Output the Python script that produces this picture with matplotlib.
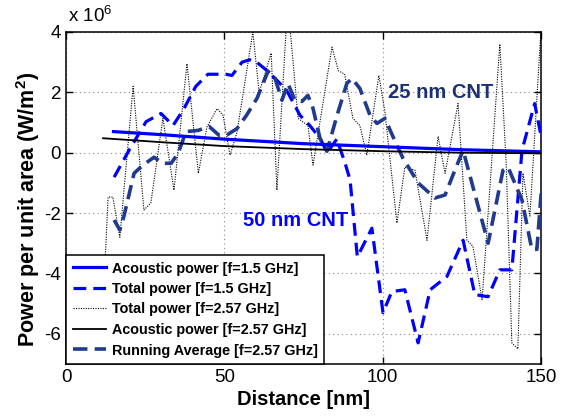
import matplotlib
matplotlib.use("Agg")
import matplotlib.pyplot as plt
import numpy as np

plt.rcParams['font.family'] = ['Liberation Sans', 'DejaVu Sans']
plt.rcParams['mathtext.fontset'] = 'custom'
plt.rcParams['mathtext.rm'] = 'Liberation Sans'
plt.rcParams['mathtext.bf'] = 'Liberation Sans:bold'
plt.rcParams['mathtext.default'] = 'regular'

SCALE = 1e6

# Acoustic power f=1.5 GHz (blue solid)
ac15_x = [15, 30, 50, 75, 100, 125, 150]
ac15_y = [0.70, 0.60, 0.45, 0.30, 0.20, 0.10, 0.03]

# Acoustic power f=2.57 GHz (black solid)
ac257_x = [11.7, 30, 50, 75, 100, 125, 150]
ac257_y = [0.48, 0.35, 0.22, 0.12, 0.05, 0.0, -0.02]

# Total power f=1.5 GHz (blue dashed)
tp15_x = [15.2, 20, 25.3, 30, 33.8, 37.3, 41, 44.8, 50.5, 52.4, 55.6, 58, 60.2, 63.4, 66.6,
          69.7, 73.9, 77, 80.2, 82.5, 85.5, 88, 89.7, 92, 96.6, 100.1, 102.9, 107, 111.2,
          115, 120.3, 125.4, 129.1, 133.3, 137, 140.8, 144, 148, 150.5]
tp15_y = [-0.81, 0.1, 1.03, 1.3, 0.9, 1.47, 2.2, 2.6, 2.6, 2.56, 3.0, 3.08, 3.0, 2.73, 2.4,
          2.06, 1.24, 0.9, 0.48, 0.0, 0.45, -0.3, -0.9, -3.45, -2.5, -5.3, -4.6, -4.54, -6.3,
          -4.54, -4.1, -2.9, -4.7, -4.77, -3.88, -3.88, 0.08, 1.63, 0.3]

# Total power f=2.57 GHz (black dotted)
tp257_x = [11.7, 13.3, 14.8, 17, 21.2, 24.6, 26.8, 30.6, 34.1, 38.2, 41.8, 44.5, 47.7, 49.6,
           51.8, 54, 59, 61, 64.8, 66.6, 70, 73.3, 76.4, 78, 84, 86, 88, 90.6, 92.8, 95, 98.8,
           100.7, 104.5, 107, 110.2, 114, 117.5, 119.7, 123.8, 126.6, 128.5, 131.4, 137,
           139, 140.8, 142.7, 144.3, 146.5, 150]
tp257_y = [-5.0, -1.47, -1.47, -2.8, 2.2, -1.9, -1.66, 1.14, -1.24, 2.95, -0.68, 0.85, 1.46, 1.24,
           -0.08, 0.68, 4.0, 2.0, 3.3, -1.24, 5.0, 1.14, 0.9, -0.41, 3.5, 2.72, 2.6, 1.14, 0.9, -0.08, 2.56,
           1.36, -2.33, -0.48, -0.58, -2.9, 0.54, -0.68, 1.63, -2.9, -3.1, -4.87, 3.6,
           -0.35, -6.3, -6.5, -0.68, -2.1, 4.1]

# Running average f=2.57 GHz (navy dashed)
ra_x = [15.2, 17, 18.3, 21.5, 24.3, 27.8, 30.6, 33.2, 35.4, 37.9, 41.7, 45.2, 48.3, 51, 54, 57,
        60.3, 63.8, 66, 68.2, 70.1, 72.3, 74.5, 76.4, 78, 80.2, 82.4, 85.6, 88.7, 90.3, 92.8, 96,
        98.2, 100.7, 103.9, 106.4, 111.2, 116.5, 119.7, 122.8, 125.4, 133.3, 138, 139.6,
        144, 147.1, 148.7, 150.3]
ra_y = [-2.23, -2.56, -2.1, -0.68, -0.41, -0.15, -0.35, -0.35, -0.02, 0.7, 0.74, 0.87, 0.58, 0.6, 0.8, 1.24,
        1.8, 2.7, 2.46, 1.74, 2.29, 1.74, 1.7, 1.9, 1.47, 0.48, 0.05, 1.24, 2.3, 2.46, 2.13, 1.24,
        0.97, 1.14, 0.38, -0.18, -1.0, -1.5, -1.4, -0.58, 0.08, -3.0, -0.58, -0.48,
        -1.57, -3.2, -3.2, -1.0]

xticks = [0, 50, 100, 150]
yticks = [-6, -4, -2, 0, 2, 4]

BLUE = '#0000ff'
NAVY = '#1f3a8e'

fig = plt.figure(figsize=(5.67, 4.17), dpi=100)
ax = fig.add_axes([66/567, 1-364/417, (541-66)/567, (364-32)/417])

sc = lambda v: np.array(v) * SCALE

ax.plot(ac15_x, sc(ac15_y), color=BLUE, lw=2.3, label='Acoustic power [f=1.5 GHz]', zorder=4)
ax.plot(tp15_x, sc(tp15_y), color=BLUE, lw=2.3, dashes=(4, 2.2), label='Total power [f=1.5 GHz]', zorder=3)
ax.plot(tp257_x, sc(tp257_y), color='black', lw=0.8, dashes=(1, 1.2), label='Total power [f=2.57 GHz]', zorder=2)
ax.plot(ac257_x, sc(ac257_y), color='black', lw=1.3, label='Acoustic power [f=2.57 GHz]', zorder=4)
ax.plot(ra_x, sc(ra_y), color=NAVY, lw=2.6, dashes=(4, 2.0), label='Running Average [f=2.57 GHz]', zorder=3)

ax.set_xlim(0, 150)
ax.set_ylim(-7e6, 4e6)
ax.set_xticks(xticks)
ax.set_yticks([t * SCALE for t in yticks])
ax.set_xticklabels([str(t) for t in xticks])
ax.set_yticklabels([str(t) for t in yticks])
ax.tick_params(direction='in', top=True, right=True, labelsize=13.5, length=5, width=1)
ax.grid(True, color='#888888', linestyle=(0, (1, 3)), lw=0.8)
for s in ax.spines.values():
    s.set_linewidth(1.1)

ax.set_xlabel('Distance [nm]', fontsize=14.5, fontweight='bold', labelpad=3)
ax.set_ylabel(r'Power per unit area (W/m$^{\mathbf{2}}$)', fontsize=15.5, fontweight='bold')
ax.yaxis.set_label_coords(-0.05, 0.465)

fig.text(68/567, 1-16/417, r'x 10$^{6}$', fontsize=13.5, va='center', ha='left')

ax.text(118.4, 2.0e6, '25 nm CNT', color='#1b2f75', fontsize=14.5, fontweight='bold', ha='center', va='center')
ax.text(72.5, -2.23e6, '50 nm CNT', color=BLUE, fontsize=14.5, fontweight='bold', ha='center', va='center')

leg = ax.legend(loc='lower left', bbox_to_anchor=(0, 0), borderaxespad=0, fancybox=False,
                framealpha=1, edgecolor='black', prop={'weight': 'bold', 'size': 10.4},
                handlelength=2.3, labelspacing=0.45, handletextpad=0.4, borderpad=0.45)
leg.get_frame().set_linewidth(1.1)
leg.set_zorder(10)

fig.savefig('out.png', dpi=100)
